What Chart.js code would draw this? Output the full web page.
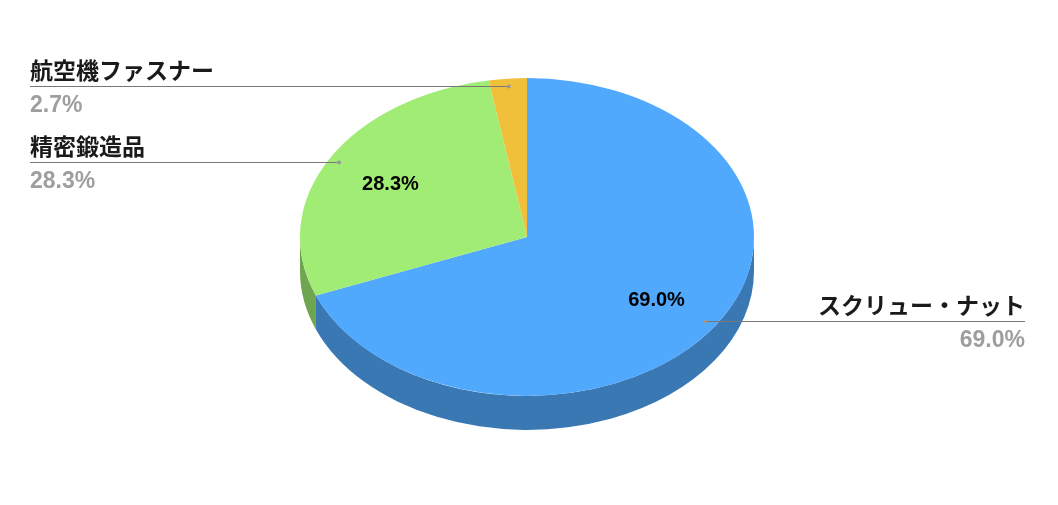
<!DOCTYPE html>
<html>
<head>
<meta charset="utf-8">
<script src="https://cdn.jsdelivr.net/npm/chart.js@4"></script>
<style>
  body { margin: 0; background: #fff; }
  #wrap { width: 1058px; height: 505px; }
</style>
</head>
<body>
<div id="wrap"><canvas id="myChart" width="1058" height="505"></canvas></div>
<script>
// data
let labels = ['スクリュー・ナット', '精密鍛造品', '航空機ファスナー'];
let values = [69.0, 28.3, 2.7];
let topColors = ['#51a9fe', '#a0ec74', '#f0c03a'];
let sideColors = ['#3a78b4', '#6fa450', '#b48f2b'];

// 3d look
let tilt = 0.7;     // vertical squash of the pie
let depth = 34;     // thickness in screen px

function project(cx, cy, r, angle, f) {
    return {
        x: cx + Math.cos(angle) * r * f,
        y: cy + Math.sin(angle) * r * f * tilt
    };
}

let pie3d = {
    id: 'pie3d',
    beforeDatasetsDraw(chart) {
        let ctx = chart.ctx;
        let arcs = chart.getDatasetMeta(0).data;
        let cx = arcs[0].x, cy = arcs[0].y;
        ctx.save();
        ctx.translate(cx, cy);
        ctx.scale(1, tilt);
        ctx.translate(-cx, -cy);
        let d = depth / tilt;
        // side walls, only the front half is visible
        arcs.forEach((arc, i) => {
            let p = arc.getProps(['startAngle', 'endAngle', 'outerRadius']);
            for (let base = 0; base <= 2 * Math.PI; base += 2 * Math.PI) {
                let a = Math.max(p.startAngle, base);
                let b = Math.min(p.endAngle, base + Math.PI);
                if (b <= a) continue;
                ctx.beginPath();
                ctx.arc(cx, cy, p.outerRadius, a, b);
                ctx.arc(cx, cy + d, p.outerRadius, b, a, true);
                ctx.closePath();
                ctx.fillStyle = sideColors[i];
                ctx.fill();
            }
        });
    },
    afterDatasetsDraw(chart) {
        let ctx = chart.ctx;
        ctx.restore();
        let arcs = chart.getDatasetMeta(0).data;
        arcs.forEach((arc, i) => {
            let p = arc.getProps(['x', 'y', 'startAngle', 'endAngle', 'outerRadius']);
            let mid = (p.startAngle + p.endAngle) / 2;
            let pct = values[i].toFixed(1) + '%';

            // label inside the slice
            if (values[i] > 10) {
                let q = project(p.x, p.y, p.outerRadius, mid, 0.69);
                ctx.font = "bold 20px 'Liberation Sans', Arial, sans-serif";
                ctx.fillStyle = '#000';
                ctx.textAlign = 'center';
                ctx.textBaseline = 'alphabetic';
                ctx.fillText(pct, q.x, q.y + 7);
            }

            // leader line and outside label
            let dot = project(p.x, p.y, p.outerRadius, mid, 0.95);
            let ly = Math.round(dot.y) - 0.5;
            let right = Math.cos(mid) > 0;
            let endX = right ? 1025 : 30;
            ctx.strokeStyle = '#777';
            ctx.lineWidth = 1;
            ctx.beginPath();
            ctx.moveTo(dot.x, ly);
            ctx.lineTo(endX, ly);
            ctx.stroke();
            ctx.fillStyle = '#999';
            ctx.beginPath();
            ctx.arc(dot.x, ly, 2, 0, 2 * Math.PI);
            ctx.fill();

            ctx.textAlign = right ? 'right' : 'left';
            ctx.font = "bold 23px 'Noto Sans CJK JP', sans-serif";
            ctx.fillStyle = '#1a1a1a';
            ctx.textBaseline = 'middle';
            ctx.fillText(labels[i], endX, ly - 16);
            ctx.font = "bold 23px 'Liberation Sans', Arial, sans-serif";
            ctx.fillStyle = '#9e9e9e';
            ctx.textBaseline = 'alphabetic';
            ctx.fillText(pct, endX, ly + 25);
        });
    }
};

new Chart(document.getElementById('myChart'), {
    type: 'pie',
    data: {
        labels: labels,
        datasets: [{
            data: values,
            backgroundColor: topColors,
            borderWidth: 0,
            offset: 0,
            hoverOffset: 0
        }]
    },
    options: {
        responsive: false,
        animation: false,
        events: [],
        layout: {
            padding: { top: 10, bottom: 41, left: 0, right: 4 }
        },
        plugins: {
            legend: { display: false },
            tooltip: { enabled: false }
        }
    },
    plugins: [pie3d]
});
</script>
</body>
</html>
